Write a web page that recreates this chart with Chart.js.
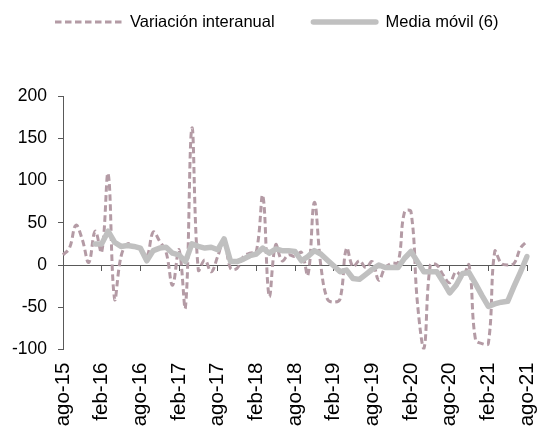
<!DOCTYPE html>
<html lang="es">
<head>
<meta charset="utf-8">
<title>Variación interanual</title>
<script src="https://cdn.jsdelivr.net/npm/chart.js@4"></script>
<style>
  html, body { margin: 0; padding: 0; background: #fff; }
  #chart { display: block; }
</style>
</head>
<body>
<canvas id="chart" width="537" height="427"></canvas>
<script>
// meses, de ago-15 a ago-21
const meses = [
  'ago-15', 'sep-15', 'oct-15', 'nov-15', 'dic-15',
  'ene-16', 'feb-16', 'mar-16', 'abr-16', 'may-16', 'jun-16', 'jul-16', 'ago-16', 'sep-16', 'oct-16', 'nov-16', 'dic-16',
  'ene-17', 'feb-17', 'mar-17', 'abr-17', 'may-17', 'jun-17', 'jul-17', 'ago-17', 'sep-17', 'oct-17', 'nov-17', 'dic-17',
  'ene-18', 'feb-18', 'mar-18', 'abr-18', 'may-18', 'jun-18', 'jul-18', 'ago-18', 'sep-18', 'oct-18', 'nov-18', 'dic-18',
  'ene-19', 'feb-19', 'mar-19', 'abr-19', 'may-19', 'jun-19', 'jul-19', 'ago-19', 'sep-19', 'oct-19', 'nov-19', 'dic-19',
  'ene-20', 'feb-20', 'mar-20', 'abr-20', 'may-20', 'jun-20', 'jul-20', 'ago-20', 'sep-20', 'oct-20', 'nov-20', 'dic-20',
  'ene-21', 'feb-21', 'mar-21', 'abr-21', 'may-21', 'jun-21', 'jul-21', 'ago-21'
];

// etiquetas visibles del eje x (cada seis meses)
const etiquetasX = [
  'ago-15', 'feb-16', 'ago-16', 'feb-17', 'ago-17', 'feb-18', 'ago-18',
  'feb-19', 'ago-19', 'feb-20', 'ago-20', 'feb-21', 'ago-21'
];

const ticksY = [-100, -50, 0, 50, 100, 150, 200];

// variación interanual (%)
const interanual = [
  12, 20, 47, 30, 3, 40, 15, 108, -40, 10, 25, 22,
  20, 10, 39, 28, 15, -24, 18, -50, 162, -6, 6, -8,
  10, 30, -4, -4, 10, 14, 16, 82, -37, 24, 5, 12,
  10, 15, -12, 74, 0, -40, -44, -40, 20, -2, 5, -3,
  4, -18, -3, 2, 3, 63, 63, -45, -99, 0, 0, -12,
  -21, -8, -14, 0, -88, -93, -93, 16, 2, 0, 2, 20,
  28
];

// media móvil de seis meses
const mediaMovil = [
  null, null, null, null, null, 25, 25, 40, 27, 22, 23, 22,
  20, 5, 17, 20, 21, 14, 12, 4, 25, 22, 20, 21,
  18, 31, 4, 4, 7, 11, 13, 20, 14, 19, 17, 17,
  16, 5, 10, 17, 13, 6, -1, -8, -6, -16, -17, -11,
  -5, 0, -3, -3, -3, 8, 16, 4, -8, -8, -8, -20,
  -33, -24, -10, -9, -22, -36, -49, -46, -44, -43, -25, -8,
  10
];

const fuente = '"Liberation Sans", Arial, sans-serif';
Chart.defaults.font.family = fuente;
Chart.defaults.color = '#000';

const ejeColor = '#595959';

// leyenda en una fila, con muestra de línea de 68px por serie
const leyenda = {
  id: 'leyenda',
  afterDraw(chart) {
    const ctx = chart.ctx;
    const y = 22;
    let x = 55;
    ctx.save();
    ctx.font = '16.5px ' + fuente;
    ctx.textBaseline = 'middle';
    ctx.fillStyle = '#000';
    chart.data.datasets.forEach(ds => {
      ctx.strokeStyle = ds.borderColor;
      ctx.lineWidth = ds.borderWidth;
      ctx.lineCap = ds.borderCapStyle || 'butt';
      ctx.setLineDash(ds.borderDash || []);
      const r = ctx.lineCap === 'round' ? ds.borderWidth / 2 : 0;
      ctx.beginPath();
      ctx.moveTo(x + r, y);
      ctx.lineTo(x + 68 - r, y);
      ctx.stroke();
      ctx.fillText(ds.label, x + 75, y);
      x += 75 + ctx.measureText(ds.label).width + 36;
    });
    ctx.restore();
  }
};

new Chart(document.getElementById('chart'), {
  type: 'line',
  data: {
    labels: meses,
    datasets: [
      {
        label: 'Variación interanual',
        data: interanual,
        borderColor: '#b49ba5',
        borderWidth: 3,
        borderDash: [6.5, 3.5],
        tension: 0.4,
        pointRadius: 0,
        order: 2
      },
      {
        label: 'Media móvil (6)',
        data: mediaMovil,
        borderColor: '#c0c0c0',
        borderWidth: 5.5,
        borderCapStyle: 'round',
        borderJoinStyle: 'round',
        tension: 0,
        pointRadius: 0,
        order: 1
      }
    ]
  },
  options: {
    responsive: false,
    animation: false,
    devicePixelRatio: 1,
    layout: { padding: { top: 96, left: 0, right: 0, bottom: 0 } },
    plugins: {
      legend: { display: false },
      tooltip: { enabled: false }
    },
    scales: {
      x: {
        type: 'category',
        position: 'bottom',
        grid: { display: false, drawTicks: false },
        border: { display: false },
        ticks: {
          autoSkip: false,
          minRotation: 90,
          maxRotation: 90,
          padding: 13,
          font: { size: 20.5 },
          color: '#000',
          callback: (v, i) => etiquetasX.includes(meses[i]) ? meses[i] : ''
        },
        afterFit: s => { s.height = 77.5; s.paddingLeft = 0; s.paddingRight = 10; }
      },
      // eje horizontal sobre el cero, solo línea y marcas
      x0: {
        type: 'category',
        position: { y: 0 },
        grid: {
          drawOnChartArea: false,
          tickLength: 5,
          tickColor: c => etiquetasX.includes(meses[c.index]) ? ejeColor : 'rgba(0,0,0,0)'
        },
        border: { display: true, color: ejeColor },
        ticks: { display: false, autoSkip: false }
      },
      y: {
        min: -100,
        max: 200,
        afterBuildTicks: s => { s.ticks = ticksY.map(v => ({ value: v })); },
        grid: { drawOnChartArea: false, tickLength: 5, color: ejeColor },
        border: { color: ejeColor },
        ticks: { padding: 11, font: { size: 17.5 }, color: '#000' },
        afterFit: s => { s.width = 63; }
      }
    }
  },
  plugins: [leyenda]
});
</script>
</body>
</html>
